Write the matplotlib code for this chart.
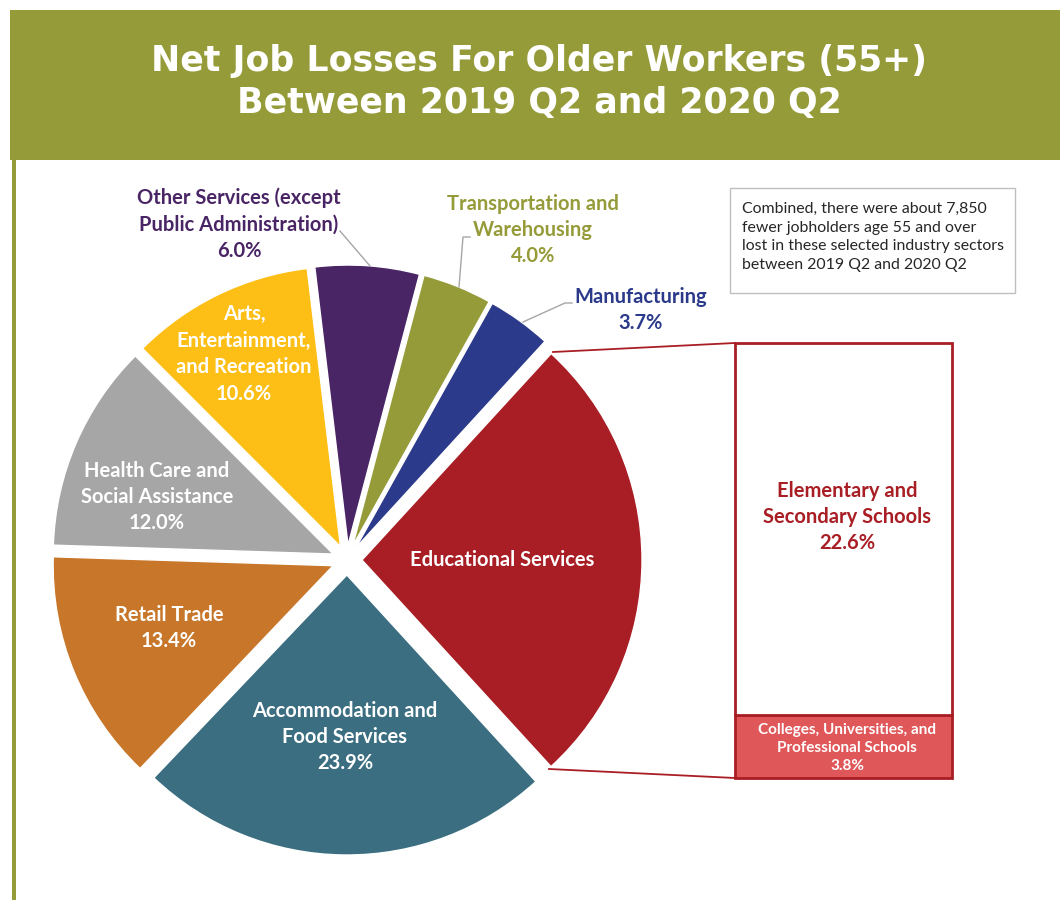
import numpy as np
import matplotlib
matplotlib.use('Agg')
import matplotlib.pyplot as plt
from matplotlib.patches import Rectangle

# data
sectors = ['Educational Services', 'Accommodation and\nFood Services', 'Retail Trade',
           'Health Care and\nSocial Assistance', 'Arts,\nEntertainment,\nand Recreation',
           'Other Services (except\nPublic Administration)', 'Transportation and\nWarehousing',
           'Manufacturing']
shares = [26.4, 23.9, 13.4, 12.0, 10.6, 6.0, 4.0, 3.7]
colors = ['#A81E24', '#3B6E80', '#C8772A', '#A6A6A6', '#FDBF15', '#4A2566', '#969B3A', '#2B3A8A']

edu_parts = ['Colleges, Universities, and\nProfessional Schools', 'Elementary and\nSecondary Schools']
edu_shares = [3.8, 22.6]
edu_colors = ['#E0575A', 'white']

olive = '#969B3A'
W, H = 1060, 900

def py(y):
    # pixel row (from top) to data y
    return H - y

plt.rcParams['font.family'] = ['Lato', 'DejaVu Sans']

fig = plt.figure(figsize=(W / 100, H / 100), dpi=100)
ax = fig.add_axes([0, 0, 1, 1])

# pie (explode is in data units here, i.e. pixels)
cx, cy, r = 347, py(560), 280
ax.pie(shares, colors=colors, startangle=47.5, counterclock=False,
       explode=[15] * len(shares), center=(cx, cy), radius=r,
       wedgeprops=dict(edgecolor='white', linewidth=1))
ax.set_xlim(0, W)
ax.set_ylim(0, H)
ax.set_aspect('auto')
ax.axis('off')

# header bar and left rule
ax.add_patch(Rectangle((10, py(160)), W - 10, 150, facecolor=olive, edgecolor='none'))
ax.add_patch(Rectangle((12, 0), 4, py(160), facecolor=olive, edgecolor='none'))
ax.text(539, py(82), 'Net Job Losses For Older Workers (55+)\nBetween 2019 Q2 and 2020 Q2',
        color='white', fontsize=25, fontweight='bold', family='DejaVu Sans',
        ha='center', va='center', linespacing=1.33)

# labels; spacing = wanted distance between lines in pixels
def label(x, y, s, color='white', size=14.5, spacing=26.5, weight='bold', ha='center'):
    ax.text(x, py(y), s, color=color, fontsize=size, fontweight=weight,
            ha=ha, va='center', linespacing=spacing / (size * 100 / 72) / 0.94)

def pct(i):
    return sectors[i] + '\n%.1f%%' % shares[i]

label(502, 560, sectors[0])
label(345, 737, pct(1))
label(169, 628, pct(2))
label(157, 497, pct(3))
label(244, 354, pct(4))
label(239, 224, pct(5), color=colors[5])
label(533, 230, pct(6), color=olive)
label(641, 310, pct(7), color=colors[7])

# leader lines
gray = '#A6A6A6'
ax.plot([340, 370], [py(231), py(266)], color=gray, lw=1)
ax.plot([470, 463, 459], [py(237), py(237), py(287)], color=gray, lw=1)
ax.plot([572, 565, 523], [py(303), py(303), py(322)], color=gray, lw=1)

# connectors to breakdown bar
red = '#A81E24'
ax.plot([553, 735], [py(352), py(343)], color=red, lw=1.3)
ax.plot([549, 735], [py(769), py(778)], color=red, lw=1.3)

# breakdown bar of educational services
bx = fig.add_axes([735 / W, 122 / H, 217 / W, 435 / H])
bottom = 0
for part, val, col in zip(edu_parts, edu_shares, edu_colors):
    bx.bar(0, val, bottom=bottom, width=1, color=col, edgecolor=red, linewidth=2, clip_on=False)
    bottom += val
bx.set_xlim(-0.5, 0.5)
bx.set_ylim(0, sum(edu_shares))
bx.axis('off')
bx.set_zorder(0)
ax.set_zorder(1)

label(847, 748, edu_parts[0] + '\n%.1f%%' % edu_shares[0], size=11, spacing=20)
label(847, 517, edu_parts[1] + '\n%.1f%%' % edu_shares[1], color=red)

# note box
ax.add_patch(Rectangle((730, py(293)), 285, 105, facecolor='white', edgecolor='#BFBFBF', lw=1))
label(742, 237, 'Combined, there were about 7,850\nfewer jobholders age 55 and over\n'
      'lost in these selected industry sectors\nbetween 2019 Q2 and 2020 Q2',
      color='#262626', size=11.4, spacing=21, weight='normal', ha='left')

fig.savefig('out.png', dpi=100)
